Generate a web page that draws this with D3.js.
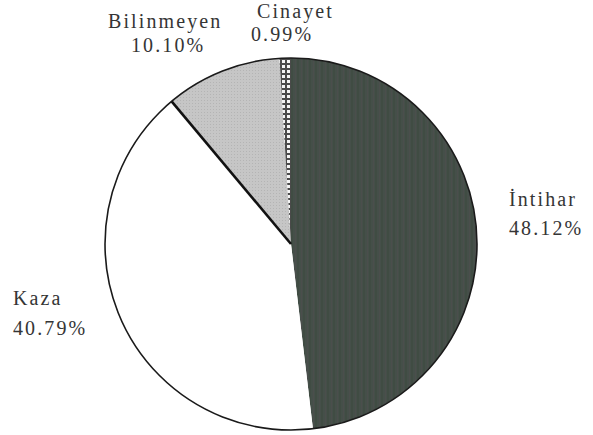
<!DOCTYPE html>
<html>
<head>
<meta charset="utf-8">
<script src="https://cdn.jsdelivr.net/npm/d3@7"></script>
<style>
  html, body { margin: 0; padding: 0; background: #ffffff; }
  svg { display: block; }
  .lbl { font-family: "Liberation Serif", "Times New Roman", serif; font-size: 20px; fill: #353535; letter-spacing: 2.1px; }
</style>
</head>
<body>
<svg id="chart" width="593" height="435"></svg>
<script>
// Death causes, share of cases (%), drawn clockwise from 12 o'clock
const categories = ["İntihar", "Kaza", "Bilinmeyen", "Cinayet"];
const shares = [48.12, 40.79, 10.10, 0.99];
const shareLabels = ["48.12%", "40.79%", "10.10%", "0.99%"];

const W = 593, H = 435;
const cx = 291, cy = 244, R = 186;

const svg = d3.select("#chart");
const defs = svg.append("defs");

// Fill textures for each slice
const pStripe = defs.append("pattern").attr("id", "pat-intihar")
  .attr("patternUnits", "userSpaceOnUse").attr("width", 6).attr("height", 4);
pStripe.append("rect").attr("width", 6).attr("height", 4).attr("fill", "#454f49");
pStripe.append("rect").attr("x", 0).attr("width", 2).attr("height", 4).attr("fill", "#404c43");
pStripe.append("rect").attr("x", 4).attr("width", 1).attr("height", 4).attr("fill", "#4b4e4c");

const pDot = defs.append("pattern").attr("id", "pat-bilinmeyen")
  .attr("patternUnits", "userSpaceOnUse").attr("width", 3).attr("height", 3);
pDot.append("rect").attr("width", 3).attr("height", 3).attr("fill", "#c6c6c6");
pDot.append("rect").attr("width", 1).attr("height", 1).attr("fill", "#b4b4b4");

const pCheck = defs.append("pattern").attr("id", "pat-cinayet")
  .attr("patternUnits", "userSpaceOnUse").attr("width", 5).attr("height", 5);
pCheck.append("rect").attr("width", 5).attr("height", 5).attr("fill", "#4a4a4a");
pCheck.append("rect").attr("x", 1).attr("y", 1).attr("width", 3).attr("height", 3).attr("fill", "#f4f4f4");

const fills = d3.scaleOrdinal()
  .domain(categories)
  .range(["url(#pat-intihar)", "#ffffff", "url(#pat-bilinmeyen)", "url(#pat-cinayet)"]);

const pie = d3.pie().value(d => d.v).sort(null);
const data = pie(categories.map((c, i) => ({ name: c, v: shares[i], label: shareLabels[i] })));
const arc = d3.arc().innerRadius(0).outerRadius(R);

const g = svg.append("g").attr("transform", `translate(${cx},${cy})`);

g.selectAll("path.slice")
  .data(data)
  .join("path")
  .attr("class", "slice")
  .attr("d", arc)
  .attr("fill", d => fills(d.data.name))
  .attr("stroke", "none");

// Heavy radial edge between Kaza and Bilinmeyen
const kazaEnd = data[1].endAngle;
g.append("line")
  .attr("x1", 0).attr("y1", 0)
  .attr("x2", R * Math.sin(kazaEnd)).attr("y2", -R * Math.cos(kazaEnd))
  .attr("stroke", "#111").attr("stroke-width", 2.6);

// Outer rim
g.append("circle").attr("r", R)
  .attr("fill", "none").attr("stroke", "#1a1a1a").attr("stroke-width", 1.6);

// Labels, placed around the rim
const labelPos = {
  "İntihar":   { x: 509, y: 206, x2: 509, y2: 235 },
  "Kaza":      { x: 13,  y: 305, x2: 13,  y2: 335 },
  "Bilinmeyen":{ x: 108, y: 28,  x2: 131, y2: 52 },
  "Cinayet":   { x: 257, y: 18,  x2: 251, y2: 41 }
};

data.forEach(d => {
  const p = labelPos[d.data.name];
  svg.append("text").attr("class", "lbl")
    .attr("x", p.x).attr("y", p.y)
    .text(d.data.name);
  svg.append("text").attr("class", "lbl")
    .attr("x", p.x2).attr("y", p.y2)
    .text(d.data.label);
});
</script>
</body>
</html>
